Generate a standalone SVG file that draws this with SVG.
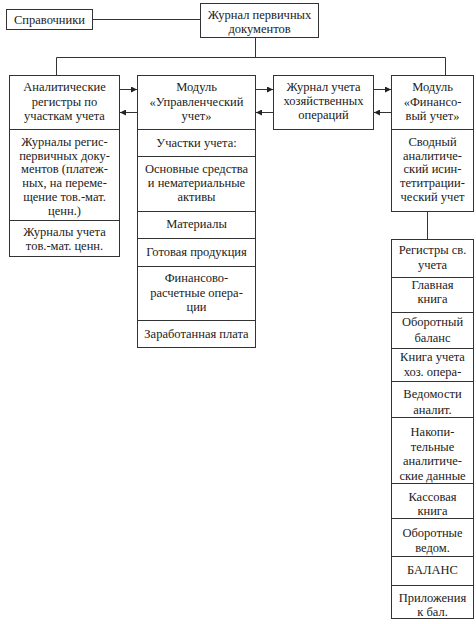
<svg xmlns="http://www.w3.org/2000/svg" width="476" height="624" viewBox="0 0 476 624">
<defs>
<style>
.b{fill:#fff;stroke:#333;stroke-width:1}
.l{fill:none;stroke:#333;stroke-width:1}
text{font-family:"Liberation Serif","Times New Roman",serif;font-size:12.5px;fill:#222;text-anchor:middle}
</style>
<marker id="ah" viewBox="0 0 6 6" refX="6" refY="3" markerWidth="6" markerHeight="6" orient="auto" markerUnits="userSpaceOnUse">
<path d="M0,0 L6,3 L0,6 Z" fill="#222"/>
</marker>
</defs>
<rect width="476" height="624" fill="#fff"/>
<g id="connectors">
<path class="l" d="M92.5,19.5 H200.5"/>
<path class="l" d="M255.5,37.5 V57.5 M56.5,57.5 H445.5 M56.5,57.5 V75.5 M445.5,57.5 V75.5"/>
<path class="l" d="M427.5,211.5 V239.5"/>
<path class="l" d="M120,89.5 H137" marker-end="url(#ah)"/>
<path class="l" d="M137,112.5 H120" marker-end="url(#ah)"/>
<path class="l" d="M256,89.5 H273" marker-end="url(#ah)"/>
<path class="l" d="M273,112.5 H256" marker-end="url(#ah)"/>
<path class="l" d="M374,89.5 H391" marker-end="url(#ah)"/>
<path class="l" d="M391,112.5 H374" marker-end="url(#ah)"/>
</g>
<g id="spravochniki">
<rect class="b" x="6.5" y="9.5" width="86" height="20"/>
<text x="49.5" y="23.5">Справочники</text>
</g>
<g id="zhurnal-pervichnykh">
<rect class="b" x="200.5" y="3.5" width="118" height="34"/>
<text x="259.5" y="19">Журнал первичных</text>
<text x="259.5" y="33">документов</text>
</g>
<g id="analiticheskie">
<rect class="b" x="9.5" y="75.5" width="110" height="181"/>
<path class="l" d="M9.5,129.5 H119.5 M9.5,220.5 H119.5"/>
<text x="64.5" y="91">Аналитические</text>
<text x="64.5" y="105.5">регистры по</text>
<text x="64.5" y="120">участкам учета</text>
<text x="64.5" y="146">Журналы регис-</text>
<text x="64.5" y="159.5">первичных доку-</text>
<text x="64.5" y="173">ментов (платеж-</text>
<text x="64.5" y="187">ных, на переме-</text>
<text x="64.5" y="201">щение тов.-мат.</text>
<text x="64.5" y="214.5">ценн.)</text>
<text x="64.5" y="236">Журналы учета</text>
<text x="64.5" y="250">тов.-мат. ценн.</text>
</g>
<g id="modul-upr">
<rect class="b" x="137.5" y="75.5" width="118" height="272"/>
<path class="l" d="M137.5,129.5 H255.5 M137.5,156.5 H255.5 M137.5,211.5 H255.5 M137.5,238.5 H255.5 M137.5,266.5 H255.5 M137.5,320.5 H255.5"/>
<text x="196.5" y="91">Модуль</text>
<text x="196.5" y="105.5">«Управленческий</text>
<text x="196.5" y="120">учет»</text>
<text x="196.5" y="147">Участки учета:</text>
<text x="196.5" y="173">Основные средства</text>
<text x="196.5" y="187">и нематериальные</text>
<text x="196.5" y="200.5">активы</text>
<text x="196.5" y="228">Материалы</text>
<text x="196.5" y="256">Готовая продукция</text>
<text x="196.5" y="282">Финансово-</text>
<text x="196.5" y="296.5">расчетные опера-</text>
<text x="196.5" y="311">ции</text>
<text x="196.5" y="337.5">Заработанная плата</text>
</g>
<g id="zhurnal-khoz">
<rect class="b" x="273.5" y="75.5" width="100" height="54"/>
<text x="323.5" y="91">Журнал учета</text>
<text x="323.5" y="105">хозяйственных</text>
<text x="323.5" y="119">операций</text>
</g>
<g id="modul-fin">
<rect class="b" x="391.5" y="75.5" width="82" height="136"/>
<path class="l" d="M391.5,129.5 H473.5"/>
<text x="432.5" y="91">Модуль</text>
<text x="432.5" y="105.5">«Финансо-</text>
<text x="432.5" y="120">вый учет»</text>
<text x="432.5" y="146">Сводный</text>
<text x="432.5" y="159.5">аналитиче-</text>
<text x="432.5" y="173">ский исин-</text>
<text x="432.5" y="187">тетитрации-</text>
<text x="432.5" y="201">ческий учет</text>
</g>
<g id="registry">
<rect class="b" x="391.5" y="239.5" width="82" height="379"/>
<path class="l" d="M391.5,277.5 H473.5 M391.5,312.5 H473.5 M391.5,348.5 H473.5 M391.5,381.5 H473.5 M391.5,417.5 H473.5 M391.5,483.5 H473.5 M391.5,518.5 H473.5 M391.5,556.5 H473.5 M391.5,585.5 H473.5"/>
<text x="432.5" y="254">Регистры св.</text>
<text x="432.5" y="269">учета</text>
<text x="432.5" y="289">Главная</text>
<text x="432.5" y="303">книга</text>
<text x="432.5" y="326">Оборотный</text>
<text x="432.5" y="342">баланс</text>
<text x="432.5" y="361">Книга учета</text>
<text x="432.5" y="376">хоз. опера-</text>
<text x="432.5" y="398">Ведомости</text>
<text x="432.5" y="414">аналит.</text>
<text x="432.5" y="436">Накопи-</text>
<text x="432.5" y="451">тельные</text>
<text x="432.5" y="465">аналитиче-</text>
<text x="432.5" y="480">ские данные</text>
<text x="432.5" y="501">Кассовая</text>
<text x="432.5" y="515">книга</text>
<text x="432.5" y="537">Оборотные</text>
<text x="432.5" y="552">ведом.</text>
<text x="432.5" y="574">БАЛАНС</text>
<text x="432.5" y="602">Приложения</text>
<text x="432.5" y="616">к бал.</text>
</g>
</svg>
